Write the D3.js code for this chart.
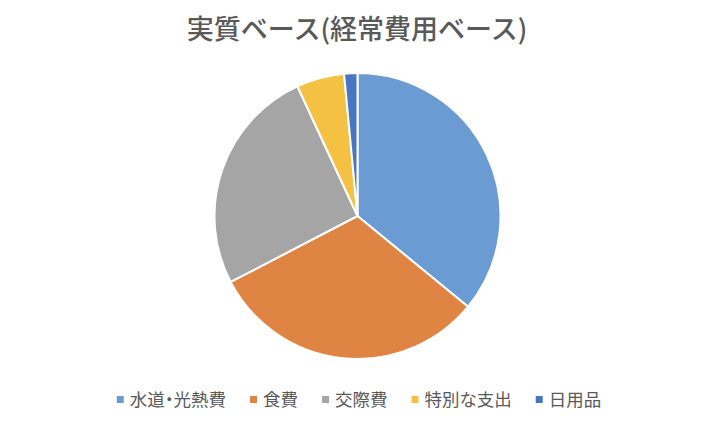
<!DOCTYPE html>
<html>
<head>
<meta charset="utf-8">
<script src="https://cdn.jsdelivr.net/npm/d3@7"></script>
<style>
  body { margin: 0; background: #fff; }
  svg { display: block; }
  text { font-family: "Noto Sans CJK JP", "Noto Sans", sans-serif; }
</style>
</head>
<body>
<svg id="chart" width="714" height="424"></svg>
<script>
// chart data
var title = "実質ベース(経常費用ベース)"
var categories = ["水道・光熱費", "食費", "交際費", "特別な支出", "日用品"]
var shares = [35.9, 31.4, 25.7, 5.4, 1.5]
var colors = ["#6a9bd2", "#e08444", "#a5a5a5", "#f5c143", "#4a74c4"]

var svg = d3.select("#chart")
var W = +svg.attr("width"), H = +svg.attr("height")
var cx = 357.5, cy = 216, r = 143

svg.append("text")
    .attr("x", 357)
    .attr("y", 38.5)
    .attr("text-anchor", "middle")
    .attr("fill", "#595959")
    .attr("font-size", 27)
    .attr("font-weight", 500)
    .text(title)

var data = categories.map(function (c, i) {
    return { name: c, value: shares[i], color: colors[i] }
})

var pie = d3.pie().sort(null).value(function (d) { return d.value })
var arc = d3.arc().innerRadius(0).outerRadius(r)

var g = svg.append("g").attr("transform", "translate(" + cx + "," + cy + ")")
g.selectAll("path")
    .data(pie(data))
    .enter().append("path")
    .attr("d", arc)
    .attr("fill", function (d) { return d.data.color })
    .attr("stroke", "#fff")
    .attr("stroke-width", 2)
    .attr("stroke-linejoin", "round")

// legend, laid out left to right and centred
var legend = svg.append("g")
var items = legend.selectAll("g")
    .data(data)
    .enter().append("g")

items.append("rect")
    .attr("width", 7).attr("height", 7)
    .attr("y", -3.5)
    .attr("fill", function (d) { return d.color })

items.append("text")
    .attr("x", 13)
    .attr("y", 0)
    .attr("dy", "0.38em")
    .attr("font-size", 17.5)
    .attr("fill", "#595959")
    .style("font-feature-settings", "'palt'")
    .text(function (d) { return d.name })

var gap = 24, pos = 0
items.each(function () {
    var w = 13 + d3.select(this).select("text").node().getComputedTextLength()
    d3.select(this).attr("transform", "translate(" + pos + ",0)")
    pos += w + gap
})
var total = pos - gap
legend.attr("transform", "translate(" + (359 - total / 2) + ",399.5)")
</script>
</body>
</html>
